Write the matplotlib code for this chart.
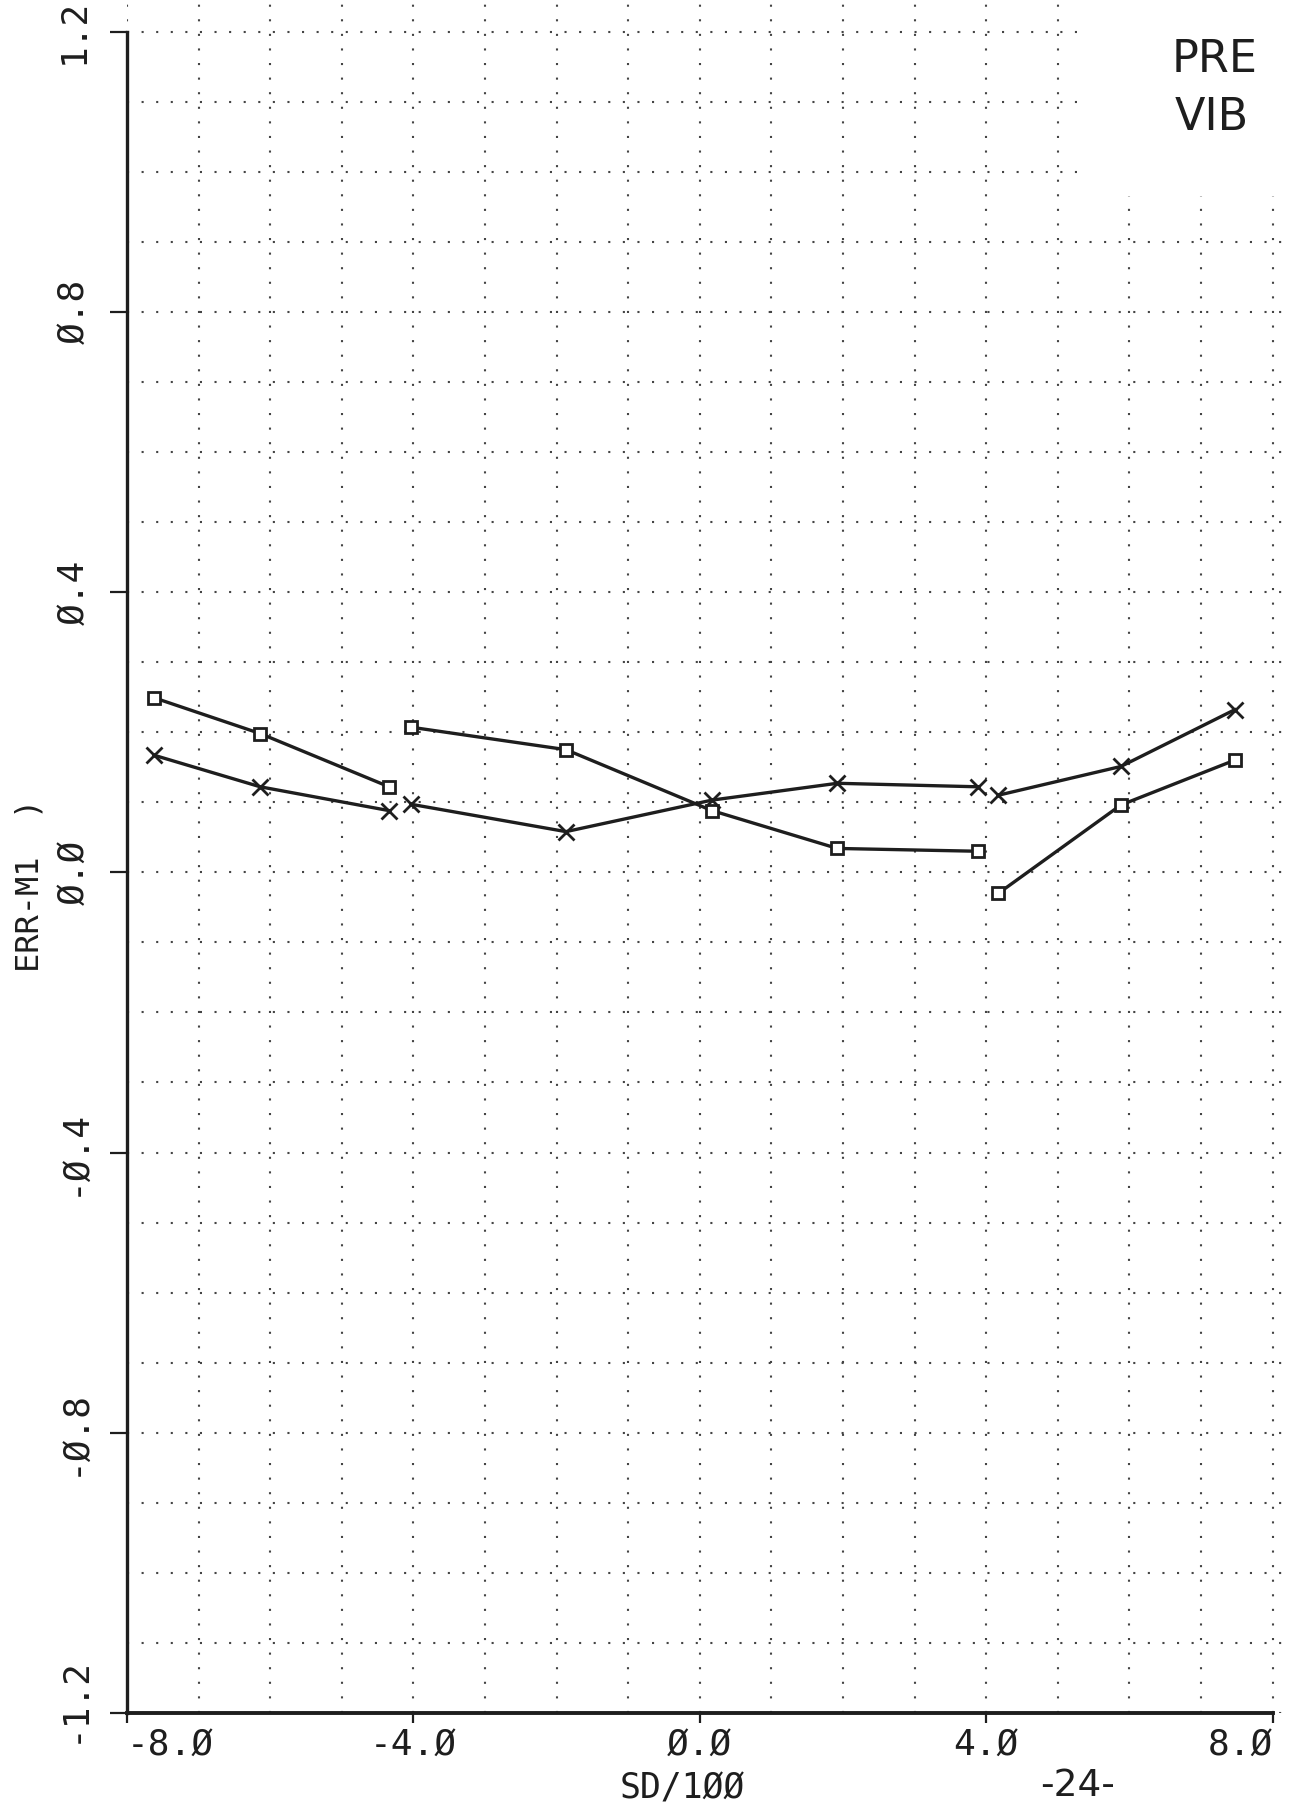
import numpy as np
import matplotlib
matplotlib.use("Agg")
import matplotlib.pyplot as plt
from matplotlib.patches import Rectangle
from matplotlib.transforms import ScaledTranslation

# x positions (SD/100), three separate runs
x_run1 = [-7.62, -6.14, -4.34]
x_run2 = [-4.03, -1.87, 0.17, 1.92, 3.88]
x_run3 = [4.17, 5.88, 7.47]

# square-marker series
sq_run1 = [0.249, 0.198, 0.122]
sq_run2 = [0.207, 0.175, 0.088, 0.034, 0.030]
sq_run3 = [-0.030, 0.096, 0.160]

# x-marker series
xm_run1 = [0.167, 0.122, 0.088]
xm_run2 = [0.097, 0.058, 0.103, 0.127, 0.122]
xm_run3 = [0.110, 0.151, 0.232]

xticks = [-8, -4, 0, 4, 8]
xticklabels = ["-8.Ø", "-4.Ø", "Ø.Ø", "4.Ø", "8.Ø"]
yticks = [-1.2, -0.8, -0.4, 0.0, 0.4, 0.8, 1.2]
yticklabels = ["-1.2", "-Ø.8", "-Ø.4", "Ø.Ø", "Ø.4", "Ø.8", "1.2"]

mono = "DejaVu Sans Mono"
ink = "#1e1e1e"

fig = plt.figure(figsize=(12.96, 18.07), dpi=100)
ax = fig.add_axes([127/1296, 94/1807, (1287-127)/1296, (1807-94)/1807])

ax.set_xlim(-8, 8.2)
ax.set_ylim(-1.2, 1.245)

for s in ["top", "right"]:
    ax.spines[s].set_visible(False)
ax.spines["left"].set_bounds(-1.2, 1.2)
ax.spines["bottom"].set_bounds(-8, 8)
ax.spines["left"].set_linewidth(2.4)
ax.spines["bottom"].set_linewidth(2.8)
ax.spines["left"].set_color(ink)
ax.spines["bottom"].set_color(ink)

ax.set_xticks(xticks)
ax.set_xticklabels(xticklabels, fontfamily=mono, fontsize=26, color=ink)
ax.set_yticks(yticks)
ax.set_yticklabels(yticklabels, fontfamily=mono, fontsize=26, rotation=90, va="center", color=ink)
ax.set_xticks(np.arange(-8, 8.01, 1.0), minor=True)
ax.set_yticks(np.arange(-1.2, 1.21, 0.1), minor=True)

ax.tick_params(axis="x", which="major", direction="out", length=7, width=1.6, pad=4, color=ink)
ax.tick_params(axis="y", which="major", direction="out", length=12, width=1.6, pad=14, color=ink)
ax.tick_params(which="minor", length=0)

# end labels pulled inward like the plotter did
xl = ax.get_xticklabels()
xl[0].set_ha("left")
xl[-1].set_ha("right")
yl = ax.get_yticklabels()
yl[0].set_transform(yl[0].get_transform() + ScaledTranslation(0, 10/72, fig.dpi_scale_trans))

ax.set_axisbelow(True)
ax.grid(which="both", color="#444444", linewidth=1.5, linestyle=(0, (1, 6)))

# blank patch where the grid was whited out
ax.add_patch(Rectangle((5.42, 0.965), 3.0, 0.4, facecolor="white", edgecolor="none", zorder=1))

line_kw = dict(color=ink, linewidth=2.4, zorder=3)
for xs, ys in [(x_run1, sq_run1), (x_run2, sq_run2), (x_run3, sq_run3)]:
    ax.plot(xs, ys, marker="s", markersize=8.5, markerfacecolor="white",
            markeredgewidth=2.0, markeredgecolor=ink, **line_kw)
for xs, ys in [(x_run1, xm_run1), (x_run2, xm_run2), (x_run3, xm_run3)]:
    ax.plot(xs, ys, marker="x", markersize=11, markeredgewidth=2.0,
            markeredgecolor=ink, **line_kw)

ax.set_xlabel("SD/1ØØ", fontfamily=mono, fontsize=25, labelpad=0, color=ink)
ax.xaxis.set_label_coords((682-127)/(1287-127), -0.034)

fig.text(30/1296, (1807-885)/1807, "ERR-M1  )", rotation=90, fontfamily=mono,
         fontsize=23, ha="center", va="center", color=ink)

fig.text(1215/1296, 1-60/1807, "PRE", fontsize=32, ha="center", va="center", color=ink)
fig.text(1212/1296, 1-118/1807, "VIB", fontsize=32, ha="center", va="center", color=ink)
fig.text(1078/1296, 3/1807, "-24-", fontsize=27, ha="center", va="bottom", color=ink)

fig.savefig("out.png", dpi=100, facecolor="white")
